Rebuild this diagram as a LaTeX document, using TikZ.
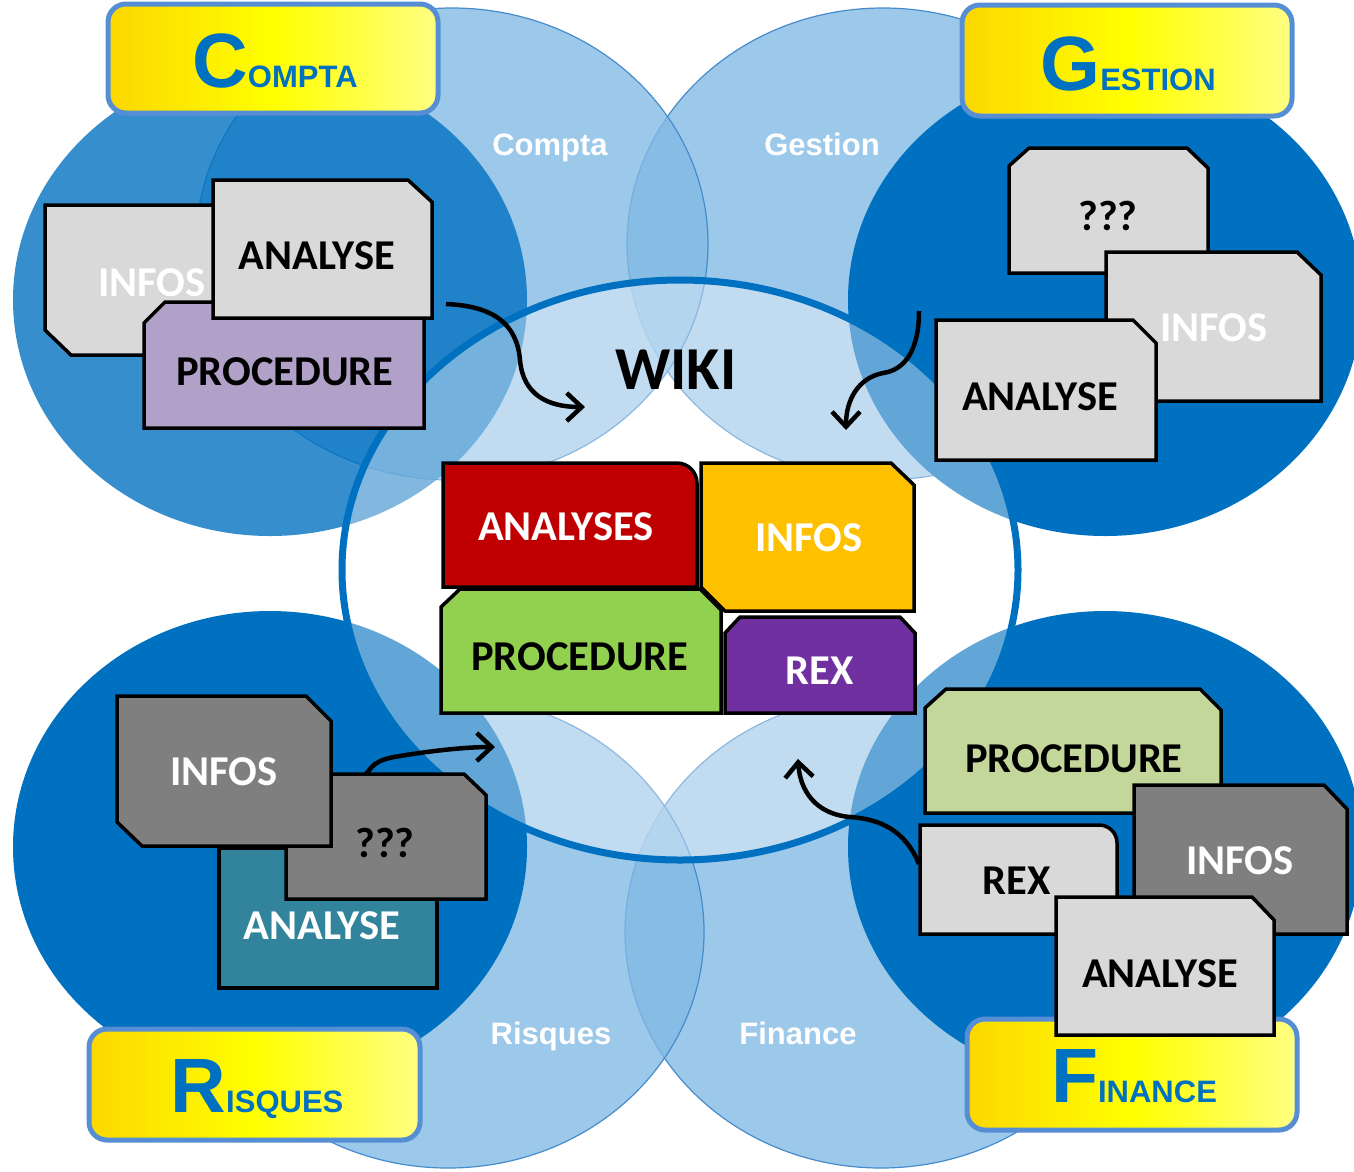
\documentclass[tikz,border=0pt]{standalone}
\usepackage{fontspec}
\setmainfont{Liberation Sans}
\newfontfamily\cardfont{Carlito}
\usetikzlibrary{arrows.meta}
\definecolor{lightC}{RGB}{130,185,228}
\definecolor{edgeC}{RGB}{70,140,205}
\definecolor{darkC}{RGB}{0,112,192}
\definecolor{yL}{RGB}{252,215,0}
\definecolor{yM}{RGB}{255,255,0}
\definecolor{yR}{RGB}{255,255,130}
\definecolor{yB}{RGB}{85,142,213}
\definecolor{cGray}{RGB}{217,217,217}
\definecolor{dGray}{RGB}{127,127,127}
\definecolor{lav}{RGB}{177,160,199}
\definecolor{tealC}{RGB}{49,132,155}
\definecolor{lgreen}{RGB}{196,215,155}
\definecolor{redC}{RGB}{192,0,0}
\definecolor{orangeC}{RGB}{255,192,0}
\definecolor{greenC}{RGB}{146,208,80}
\definecolor{purpleC}{RGB}{112,48,160}
\tikzset{
  lightcirc/.style={fill=lightC, fill opacity=0.79, draw=edgeC, line width=1.2pt},
  darkcirc/.style={fill=darkC},
  wikiell/.style={draw=darkC, line width=7pt, fill=white, fill opacity=0.38},
  lbl/.style={text=white, font=\bfseries\fontsize{31}{36}\selectfont, inner sep=0pt, anchor=base},
  ybox/.style={draw=yB, line width=5pt, rounded corners=18pt, left color=yL, right color=yR, middle color=yM},
  ttl/.style={text=darkC, font=\bfseries, inner sep=0pt, anchor=base},
  card/.style={draw=black, line width=3.5pt, line join=miter},
  ctext/.style={font=\cardfont\bfseries\fontsize{42.5}{46}\selectfont, inner sep=0pt},
  arr/.style={draw=black, line width=4.5pt, -{Straight Barb[length=15pt,width=28pt]}},
}
\newcommand\bigT{\fontsize{77}{80}\selectfont}
\newcommand\smlT{\fontsize{31}{36}\selectfont}
\begin{document}
\begin{tikzpicture}[x=1pt,y=-1pt]
\useasboundingbox (0,0) rectangle (1354,1171);
\clip (0,0) rectangle (1354,1171);
% light circles
\path[lightcirc] (883,244) ellipse [x radius=256, y radius=236];
\path[lightcirc] (452,244) ellipse [x radius=256, y radius=236];
\path[lightcirc] (881,932) ellipse [x radius=256, y radius=236];
\path[lightcirc] (448,932) ellipse [x radius=256, y radius=236];
% dark circles
\path[darkcirc, fill opacity=0.79] (270,300) ellipse [x radius=257, y radius=236];
\path[darkcirc] (1105,300) ellipse [x radius=257, y radius=236];
\path[darkcirc] (270,847) ellipse [x radius=257, y radius=236];
\path[darkcirc] (1105,847) ellipse [x radius=257, y radius=236];
% wiki ellipse
\path[wikiell] (680,570) ellipse [x radius=338, y radius=290];
\node[font=\cardfont\bfseries\fontsize{61}{64}\selectfont, inner sep=0pt] (wiki) at (676,370) {WIKI};
% labels
\node[lbl] (lCompta) at (550,155) {Compta};
\node[lbl] (lGestion) at (822,155) {Gestion};
\node[lbl] (lRisques) at (551,1044) {Risques};
\node[lbl] (lFinance) at (798,1044) {Finance};
% title boxes
\path[ybox] (108,4) rectangle (438,113);
\path[ybox] (962,5) rectangle (1292,116);
\path[ybox] (89,1029) rectangle (420,1140);
\path[ybox] (967,1019) rectangle (1297,1130);
\node[ttl] (tCompta) at (275,87) {\bigT C\smlT OMPTA};
\node[ttl] (tGestion) at (1128,90) {\bigT G\smlT ESTION};
\node[ttl] (tRisques) at (257,1112) {\bigT R\smlT ISQUES};
\node[ttl] (tFinance) at (1134,1102) {\bigT F\smlT INANCE};
% Compta cards
\draw[card, fill=cGray] (45,205) -- (260,205) -- (260,355) -- (71,355) -- (45,330) -- cycle;
\node[ctext, text=white] (cInfos) at (152,283) {INFOS};
\draw[card, fill=lav] (165,302) -- (424,302) -- (424,428) -- (144,428) -- (144,323) -- cycle;
\node[ctext] (cProc) at (285,372) {PROCEDURE};
\draw[card, fill=cGray] (213,180) -- (408,180) -- (432,202) -- (432,318) -- (213,318) -- cycle;
\node[ctext] (cAnal) at (317,256) {ANALYSE};
% Gestion cards
\draw[card, fill=cGray] (1029,148) -- (1187,148) -- (1208,168) -- (1208,273) -- (1009,273) -- (1009,166) -- cycle;
\node[ctext] (gQ) at (1108,216) {???};
\draw[card, fill=cGray] (1106,252) -- (1297,252) -- (1321,275) -- (1321,401) -- (1106,401) -- cycle;
\node[ctext, text=white] (gInfos) at (1214,328) {INFOS};
\draw[card, fill=cGray] (936,320) -- (1133,320) -- (1156,343) -- (1156,460) -- (936,460) -- cycle;
\node[ctext] (gAnal) at (1040,397) {ANALYSE};
% Risques cards
\draw[card, fill=tealC] (219,848) rectangle (437,988);
\node[ctext, text=white] (rAnal) at (322,926) {ANALYSE};
\draw[card, fill=dGray] (286,774) -- (464,774) -- (486,795) -- (486,899) -- (286,899) -- cycle;
\node[ctext] (rQ) at (385,843) {???};
\draw[card, fill=dGray] (117,696) -- (306,696) -- (331,721) -- (331,846) -- (142,846) -- (117,822) -- cycle;
\node[ctext, text=white] (rInfos) at (224,772) {INFOS};
% Finance cards
\draw[card, fill=lgreen] (946,689) -- (1200,689) -- (1221,710) -- (1221,813) -- (925,813) -- (925,708) -- cycle;
\node[ctext] (fProc) at (1074,759) {PROCEDURE};
\draw[card, fill=dGray] (1134,785) -- (1324,785) -- (1347,809) -- (1347,934) -- (1134,934) -- cycle;
\node[ctext, text=white] (fInfos) at (1240,861) {INFOS};
\draw[card, fill=cGray] (920,934) -- (920,825) -- (1099,825) .. controls (1109,825) and (1117,833) .. (1117,843) -- (1117,934) -- cycle;
\node[ctext] (fRex) at (1017,881) {REX};
\draw[card, fill=cGray] (1056,897) -- (1252,897) -- (1274,920) -- (1274,1035) -- (1056,1035) -- cycle;
\node[ctext] (fAnal) at (1160,974) {ANALYSE};
% central cards
\draw[card, fill=redC] (443,587) -- (443,463) -- (677,463) .. controls (688,463) and (697,472) .. (697,483) -- (697,587) -- cycle;
\node[ctext, text=white] (wAnal) at (566,527) {ANALYSES};
\draw[card, fill=orangeC] (701,463) -- (891,463) -- (914,485) -- (914,611) -- (725,611) -- (701,587) -- cycle;
\node[ctext, text=white] (wInfos) at (809,538) {INFOS};
\draw[card, fill=greenC] (460,589) -- (700,589) -- (721,610) -- (721,713) -- (441,713) -- (441,607) -- cycle;
\node[ctext] (wProc) at (580,657) {PROCEDURE};
\draw[card, fill=purpleC] (740,617) -- (900,617) -- (915,633) -- (915,713) -- (725,713) -- (725,633) -- cycle;
\node[ctext, text=white] (wRex) at (820,671) {REX};
% arrows
\coordinate (cA) at (446,304);
\coordinate (cAe) at (585,407);
\coordinate (gA) at (919,311);
\coordinate (gAe) at (846,430);
\coordinate (rA) at (366,774);
\coordinate (rAe) at (495,747);
\coordinate (fA) at (919,864);
\coordinate (fAe) at (798,759);
\draw[arr] (cA) .. controls (495,306) and (517,325) .. (520,360) .. controls (523,395) and (548,407) .. (cAe);
\draw[arr] (gA) .. controls (919,350) and (905,370) .. (883,373) .. controls (858,378) and (846,400) .. (gAe);
\draw[arr] (rA) .. controls (372,768) and (372,760) .. (400,756) .. controls (430,751) and (465,747) .. (rAe);
\draw[arr] (fA) .. controls (905,830) and (880,819) .. (850,817) .. controls (815,814) and (800,790) .. (fAe);
\end{tikzpicture}
\end{document}
